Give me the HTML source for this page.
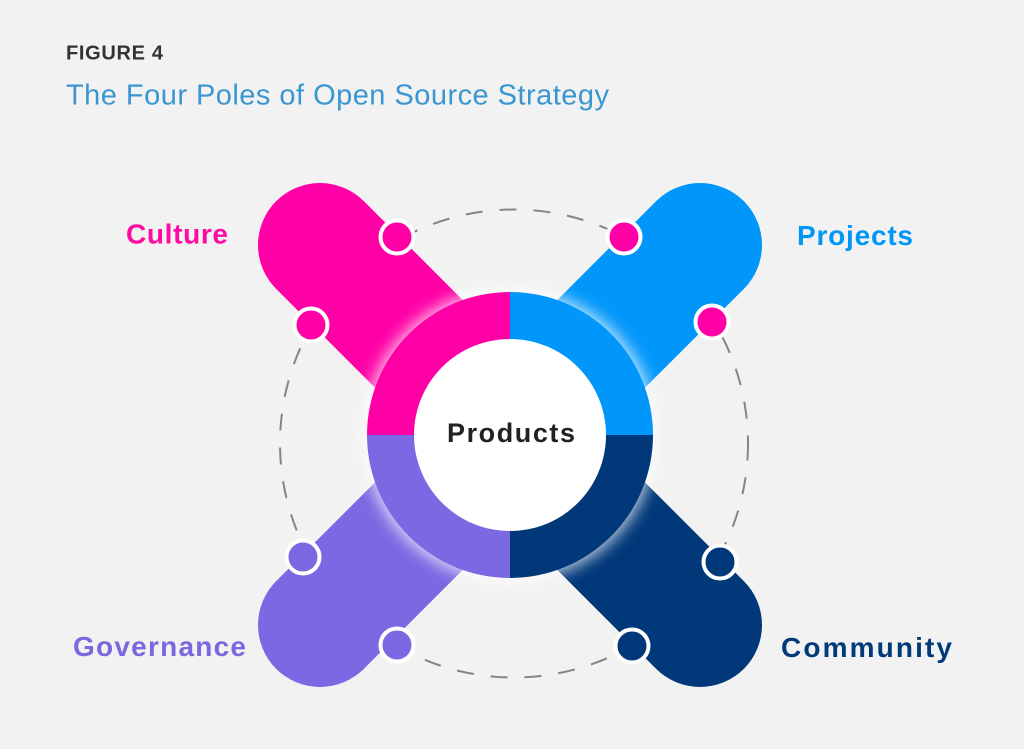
<!DOCTYPE html>
<html>
<head>
<meta charset="utf-8">
<style>
  html,body{margin:0;padding:0;background:#f2f2f2;}
  svg{display:block;}
  text{font-family:"Liberation Sans",Arial,sans-serif;}
</style>
</head>
<body>
<svg width="1024" height="749" viewBox="0 0 1024 749" xmlns="http://www.w3.org/2000/svg">
  <defs>
    <filter id="glow" x="-30%" y="-30%" width="160%" height="160%">
      <feGaussianBlur stdDeviation="8"/>
    </filter>
  </defs>
  <rect x="0" y="0" width="1024" height="749" fill="#f2f2f2"/>

  <!-- Header -->
  <text x="66" y="59.5" font-size="20" font-weight="bold" fill="#333333" textLength="97" lengthAdjust="spacing">FIGURE 4</text>
  <text x="66" y="104.5" font-size="29" fill="#3a96d0" textLength="543" lengthAdjust="spacing">The Four Poles of Open Source Strategy</text>

  <!-- Dashed circle -->
  <circle cx="514" cy="443.5" r="234" fill="none" stroke="#858585" stroke-width="2" stroke-dasharray="17 17"/>

  <!-- Arms -->
  <line x1="510" y1="435" x2="320" y2="245" stroke="#ff00a6" stroke-width="124" stroke-linecap="round"/>
  <line x1="510" y1="435" x2="700" y2="245" stroke="#0096fa" stroke-width="124" stroke-linecap="round"/>
  <line x1="510" y1="435" x2="320" y2="625" stroke="#7b68e2" stroke-width="124" stroke-linecap="round"/>
  <line x1="510" y1="435" x2="700" y2="625" stroke="#00387a" stroke-width="124" stroke-linecap="round"/>

  <!-- Glow -->
  <circle cx="510" cy="435" r="146" fill="#ffffff" opacity="0.8" filter="url(#glow)"/>

  <!-- Ring quadrants -->
  <path d="M510 435 L367 435 A143 143 0 0 1 510 292 Z" fill="#ff00a6"/>
  <path d="M510 435 L510 292 A143 143 0 0 1 653 435 Z" fill="#0096fa"/>
  <path d="M510 435 L653 435 A143 143 0 0 1 510 578 Z" fill="#00387a"/>
  <path d="M510 435 L510 578 A143 143 0 0 1 367 435 Z" fill="#7b68e2"/>
  <circle cx="510" cy="435" r="96" fill="#ffffff"/>

  <text x="447" y="442" font-size="27" font-weight="bold" fill="#222222" textLength="128" lengthAdjust="spacing">Products</text>

  <!-- Dots -->
  <g stroke="#ffffff" stroke-width="4">
    <circle cx="397" cy="237" r="16.5" fill="#ff00a6"/>
    <circle cx="311" cy="325" r="16.5" fill="#ff00a6"/>
    <circle cx="624" cy="237" r="16.5" fill="#ff00a6"/>
    <circle cx="712" cy="322" r="16.5" fill="#ff00a6"/>
    <circle cx="303" cy="557" r="16.5" fill="#7b68e2"/>
    <circle cx="397" cy="645" r="16.5" fill="#7b68e2"/>
    <circle cx="720" cy="562" r="16.5" fill="#00387a"/>
    <circle cx="632" cy="646" r="16.5" fill="#00387a"/>
  </g>

  <!-- Labels -->
  <text x="126" y="243.5" font-size="28" font-weight="bold" fill="#ff0aa3" textLength="102" lengthAdjust="spacing">Culture</text>
  <text x="797" y="245" font-size="28" font-weight="bold" fill="#0096f5" textLength="116" lengthAdjust="spacing">Projects</text>
  <text x="73" y="656" font-size="28" font-weight="bold" fill="#7b68e0" textLength="173" lengthAdjust="spacing">Governance</text>
  <text x="781" y="657" font-size="28" font-weight="bold" fill="#003a7a" textLength="171" lengthAdjust="spacing">Community</text>
</svg>
</body>
</html>
